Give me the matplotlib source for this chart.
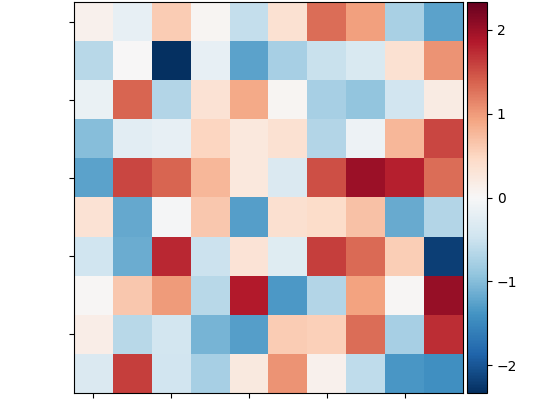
import numpy as np
import matplotlib
matplotlib.use("Agg")
import matplotlib.pyplot as plt

# values, row by row (top row first)
row0 = [0.10, -0.20, 0.60, 0.05, -0.55, 0.35, 1.30, 0.95, -0.75, -1.25]
row1 = [-0.65, 0.00, -2.33, -0.20, -1.25, -0.78, -0.52, -0.35, 0.35, 1.05]
row2 = [-0.15, 1.35, -0.68, 0.33, 0.88, 0.05, -0.77, -0.92, -0.45, 0.20]
row3 = [-1.00, -0.25, -0.20, 0.50, 0.25, 0.35, -0.68, -0.12, 0.78, 1.55]
row4 = [-1.25, 1.55, 1.35, 0.78, 0.25, -0.33, 1.50, 2.00, 1.82, 1.30]
row5 = [0.33, -1.20, -0.02, 0.62, -1.28, 0.38, 0.42, 0.68, -1.18, -0.68]
row6 = [-0.47, -1.15, 1.75, -0.50, 0.32, -0.28, 1.62, 1.32, 0.58, -2.20]
row7 = [0.03, 0.62, 1.00, -0.65, 1.85, -1.33, -0.68, 0.93, 0.02, 2.03]
row8 = [0.15, -0.65, -0.42, -1.08, -1.28, 0.60, 0.55, 1.30, -0.78, 1.72]
row9 = [-0.33, 1.62, -0.45, -0.78, 0.22, 1.05, 0.10, -0.60, -1.35, -1.42]

data = np.array([row0, row1, row2, row3, row4, row5, row6, row7, row8, row9])
vlim = 2.33
cbar_ticks = [-2, -1, 0, 1, 2]

fig = plt.figure(figsize=(5.6, 4.0), dpi=100)
ax = fig.add_axes([74 / 560, 7 / 400, 389 / 560, 391 / 400])
cax = fig.add_axes([467 / 560, 7 / 400, 20 / 560, 391 / 400])

im = ax.imshow(data, cmap="RdBu_r", vmin=-vlim, vmax=vlim, aspect="auto")
ax.set_xticks(range(0, 10, 2))
ax.set_yticks(range(0, 10, 2))
ax.set_xticklabels([])
ax.set_yticklabels([])

cb = fig.colorbar(im, cax=cax)
cb.set_ticks(cbar_ticks)

fig.savefig("out.png", dpi=100)
